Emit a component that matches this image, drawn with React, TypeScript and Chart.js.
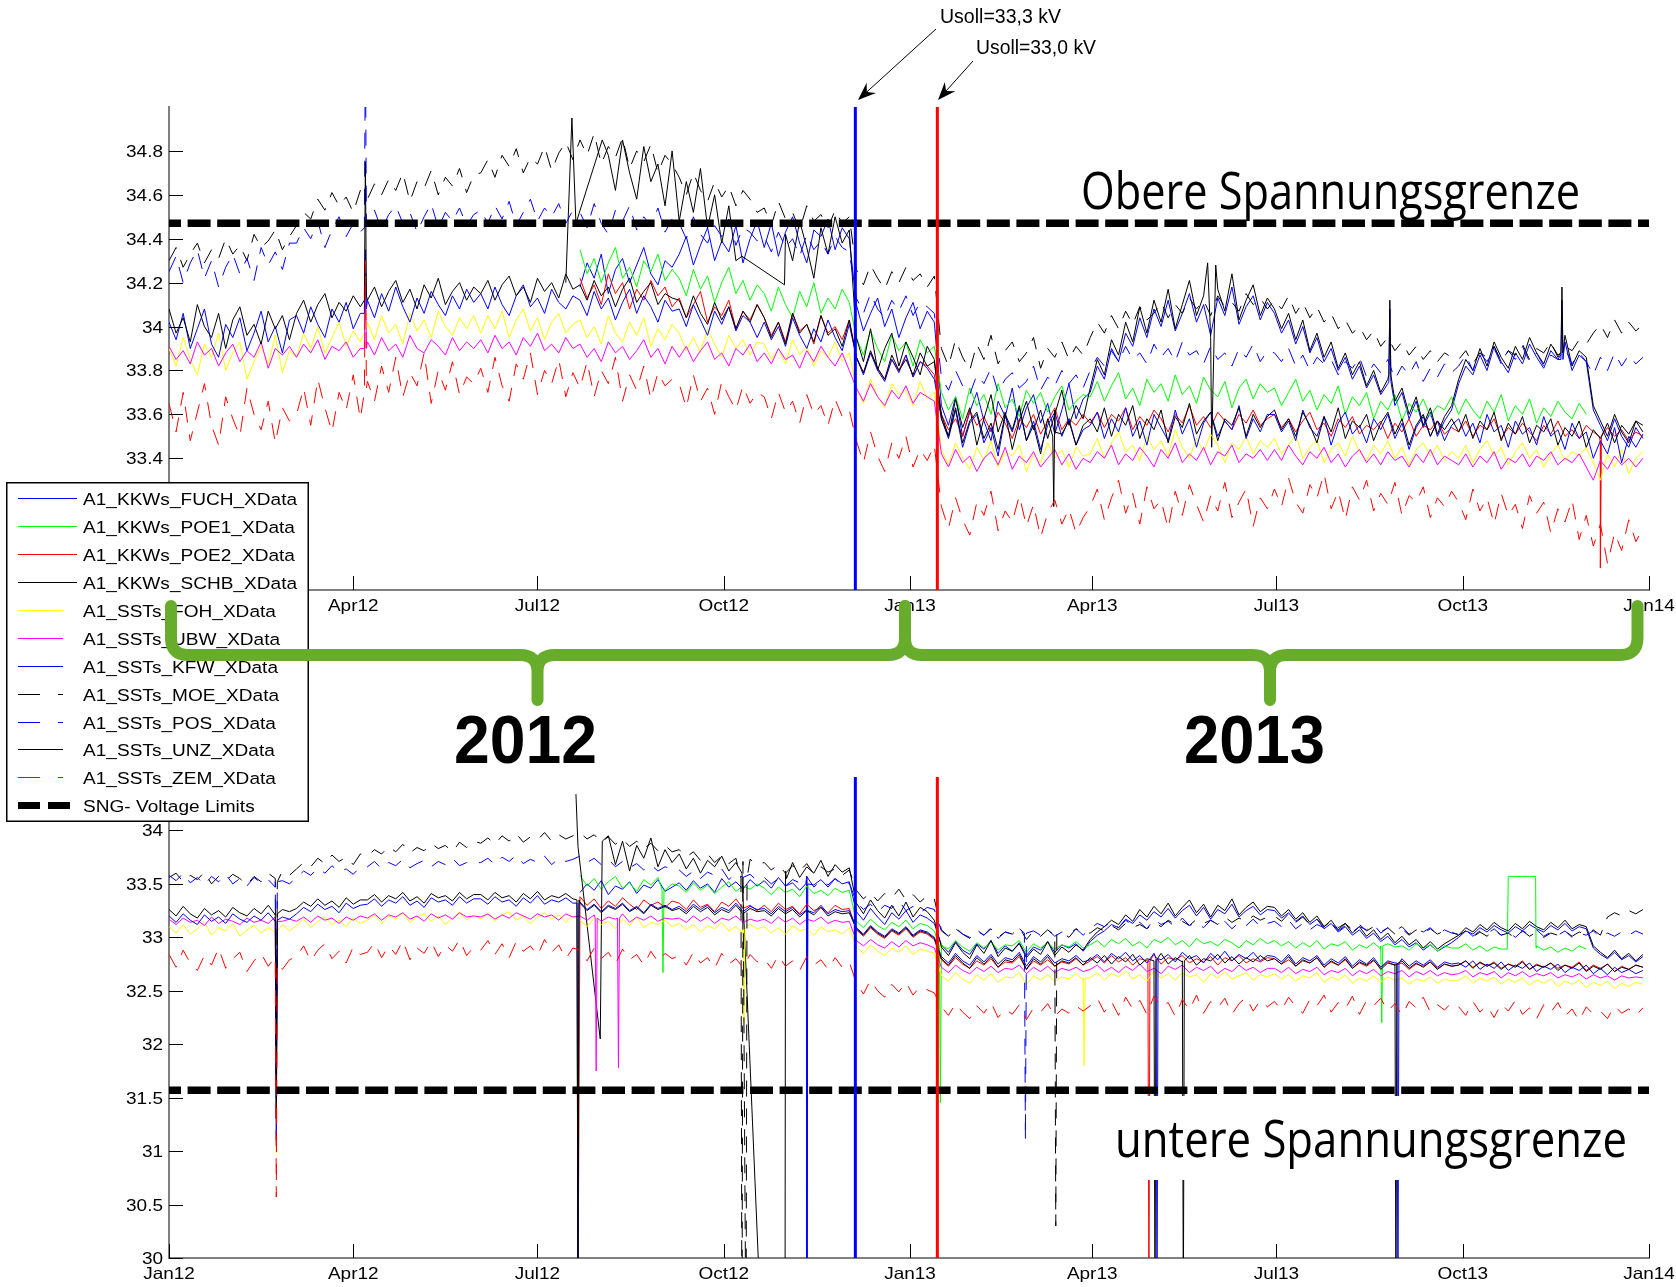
import React, { useEffect, useLayoutEffect, useRef } from 'react';
import { Chart, registerables } from 'chart.js';

Chart.register(...registerables);

// ---------------- axes / categories ----------------
const X_TICK_DAYS = [0, 91, 182, 274, 366, 456, 547, 639, 731];
const X_TICK_LABELS = ['Jan12', 'Apr12', 'Jul12', 'Oct12', 'Jan13', 'Apr13', 'Jul13', 'Oct13', 'Jan14'];
const X_RANGE = [0, 731];
const TOP_Y_RANGE = [32.8, 35];
const TOP_Y_TICKS = [33, 33.2, 33.4, 33.6, 33.8, 34, 34.2, 34.4, 34.6, 34.8];
const BOTTOM_Y_RANGE = [30, 34.5];
const BOTTOM_Y_TICKS = [30, 30.5, 31, 31.5, 32, 32.5, 33, 33.5, 34];
// half-week sample days (day 0 = 1 Jan 2012)
const SAMPLE_DAYS = Array.from({ length: 209 }, (_, i) => i * 3.5);

const SWITCH_DAYS = [339, 379.5]; // Usoll 33,3 kV / Usoll 33,0 kV
const SWITCH_COLORS = ['#0000ff', '#ff0000'];
const UPPER_LIMIT = 34.47;
const LOWER_LIMIT = 31.57;

const SERIES_NAMES = [
  'A1_KKWs_FUCH_XData', 'A1_KKWs_POE1_XData', 'A1_KKWs_POE2_XData', 'A1_KKWs_SCHB_XData',
  'A1_SSTs_FOH_XData', 'A1_SSTs_UBW_XData', 'A1_SSTs_KFW_XData', 'A1_SSTs_MOE_XData',
  'A1_SSTs_POS_XData', 'A1_SSTs_UNZ_XData', 'A1_SSTs_ZEM_XData',
];
const SERIES_COLORS = ['#0000ff', '#00ff00', '#ff0000', '#000000', '#ffff00', '#ff00ff', '#0000ff', '#000000', '#0000ff', '#000000', '#ff0000'];
const SERIES_DASHED = [false, false, false, false, false, false, false, true, true, false, true];
const SERIES_START = [58, 58, 58, 58, 0, 0, 0, 0, 0, 0, 0];
const LIMIT_LABEL = 'SNG- Voltage Limits';

// ---------------- TOP panel ----------------
const FUCH_TOP = [
  34.18,34.29,34.22,34.33,34.15,34.26,34.31,34.20,34.28,34.36,34.24,34.19,34.30,34.27,
  34.33,34.41,34.28,34.37,34.45,34.30,34.39,34.34,34.46,34.29,34.40,34.48,
  34.36,34.47,34.32,34.43,34.50,34.38,34.29,34.44,34.41,34.49,34.35,34.45,34.40,
  34.10,33.98,34.06,34.13,34.00,34.08,33.95,34.04,34.11,33.99,34.07,34.02,
  33.64,33.55,33.68,33.50,33.61,33.70,33.57,33.48,33.66,33.59,33.72,33.53,33.63,33.69,33.56,33.65,33.51,33.62,33.74,33.58,33.67,
  33.70,33.82,33.76,33.90,33.84,33.97,33.91,34.04,33.95,34.08,34.00,34.12,33.98,34.06,34.15,34.02,34.10,33.96,34.13,34.05,34.18,34.01,34.09,34.14,34.03,34.11,
  34.06,33.97,34.03,33.92,34.00,33.88,33.95,33.84,33.90,33.80,33.86,33.76,33.82,33.72,33.78,33.69,33.74,33.64,33.70,33.58,33.66,33.54,33.61,33.50,33.57,33.62,
  33.74,33.82,33.78,33.87,33.80,33.91,33.84,33.79,33.88,33.83,33.92,33.86,33.81,33.89,33.85,33.93,33.80,33.87,33.84,33.62,33.55,33.48,33.58,33.50,33.45,33.54,33.49,
];
const POE1_TOP = [
  34.35,34.24,34.31,34.20,34.29,34.36,34.22,34.27,34.18,34.30,34.25,34.33,34.21,34.26,
  34.22,34.14,34.26,34.17,34.23,34.11,34.20,34.27,34.15,34.21,34.12,34.19,
  34.15,34.07,34.18,34.10,34.04,34.16,34.09,34.20,34.06,34.13,34.08,34.17,34.11,
  33.95,33.87,33.98,33.90,33.84,33.96,33.89,33.93,33.82,33.94,33.88,33.91,
  33.70,33.62,33.68,33.58,33.72,33.64,33.69,33.60,33.74,33.63,33.67,33.59,33.71,33.65,33.70,33.61,33.68,33.73,33.62,33.66,33.69,
  33.68,33.75,33.66,33.73,33.79,33.67,33.72,33.64,33.76,33.70,33.74,33.66,33.78,33.69,33.73,33.65,33.77,33.71,33.68,33.75,33.63,33.72,33.76,33.67,33.74,33.70,
  33.72,33.64,33.70,33.76,33.66,33.71,33.62,33.69,33.65,33.73,33.60,33.68,33.64,33.70,33.58,33.66,33.62,33.69,33.57,33.65,33.61,33.67,33.59,33.64,33.62,33.68,
  33.60,33.67,33.62,33.58,33.66,33.61,33.69,33.57,33.64,33.60,33.67,33.56,33.63,33.59,33.66,33.61,33.58,33.65,33.60,null,null,null,null,null,null,null,null,
];
const POE2_TOP = [
  34.22,34.13,34.19,34.10,34.24,34.15,34.20,34.08,34.17,34.12,34.21,34.14,34.18,34.09,
  34.13,34.04,34.10,34.16,34.02,34.09,34.05,34.12,33.99,34.07,34.03,34.10,
  34.04,33.96,34.02,33.93,34.06,33.98,34.01,33.92,34.05,33.97,34.00,33.94,34.03,
  33.86,33.79,33.88,33.81,33.76,33.85,33.80,33.87,33.77,33.84,33.82,33.78,
  33.60,33.53,33.58,33.50,33.62,33.55,33.59,33.52,33.61,33.56,33.49,33.58,33.54,33.60,33.51,33.57,33.63,33.53,33.58,33.55,33.60,
  33.56,33.61,33.54,33.60,33.57,33.63,33.53,33.59,33.55,33.62,33.58,33.52,33.60,33.56,33.64,33.55,33.59,33.54,33.61,33.57,33.53,33.60,33.56,33.62,33.55,33.58,
  33.60,33.54,33.58,33.52,33.57,33.61,33.53,33.56,33.50,33.58,33.54,33.59,33.51,33.55,33.53,33.57,33.49,33.56,33.52,33.58,33.50,33.55,33.53,33.57,33.51,33.54,
  33.52,33.57,33.50,33.55,33.53,33.58,33.49,33.54,33.51,33.56,33.52,33.48,33.55,33.51,33.57,33.50,33.53,33.49,33.55,33.52,33.47,33.54,33.50,33.53,33.48,33.52,33.50,
];
const SCHB_TOP = [
  null,null,null,null,34.78,34.62,34.85,34.70,34.58,34.82,34.66,34.74,34.55,34.80,
  34.48,34.66,34.52,34.72,34.45,34.60,34.38,34.55,34.30,null,null,null,
  null,null,null,34.42,34.30,34.48,34.36,34.22,34.45,34.33,34.50,34.38,34.44,
  33.95,33.84,33.99,33.80,33.90,33.97,33.82,33.93,33.86,33.78,33.91,33.85,
  33.60,33.50,33.67,33.54,33.63,33.46,33.58,33.69,33.52,33.61,33.44,33.57,33.66,33.53,33.62,33.49,33.60,33.71,33.55,33.64,33.58,
  33.72,33.85,33.78,33.94,33.87,34.02,33.93,34.09,33.97,34.12,34.02,34.17,33.99,34.10,34.21,34.05,34.14,33.95,34.17,34.07,34.24,34.03,34.12,34.19,34.05,34.13,
  34.08,33.99,34.06,33.94,34.03,33.89,33.97,33.86,33.93,33.81,33.88,33.78,33.84,33.73,33.80,33.70,33.76,33.66,33.72,33.60,33.68,33.55,33.63,33.51,33.59,33.64,
  33.76,33.85,33.80,33.90,33.82,33.93,33.86,33.81,33.91,33.85,33.95,33.88,33.83,33.92,33.87,33.96,33.82,33.89,33.86,33.64,33.57,33.50,33.60,33.52,33.47,33.57,33.52,
];
const FOH_TOP = [
  33.90,33.82,33.95,33.85,33.78,33.92,33.86,33.97,33.80,33.88,33.93,33.76,33.84,33.91,33.83,33.96,33.79,33.89,
  33.86,33.97,33.90,34.00,33.88,33.95,34.02,33.91,33.98,33.93,
  34.02,33.94,34.05,33.97,34.01,33.92,34.06,33.98,34.03,33.95,34.07,34.00,33.96,34.04,33.99,34.05,
  33.97,34.05,33.99,34.07,33.95,34.03,34.08,33.98,34.04,33.94,34.02,34.06,33.97,34.01,
  34.03,33.95,34.00,33.92,34.05,33.97,33.93,34.02,33.96,34.04,33.91,33.99,33.94,34.01,
  33.97,33.89,33.95,33.88,33.99,33.92,33.86,33.96,33.90,33.94,33.87,33.93,
  33.92,33.85,33.90,33.83,33.94,33.87,33.91,33.82,33.89,33.86,33.93,33.84,33.88,
  33.72,33.65,33.76,33.68,33.63,33.74,33.69,33.71,33.64,33.75,33.67,33.70,
  33.44,33.37,33.47,33.40,33.35,33.45,33.39,33.48,33.36,33.43,33.41,33.46,33.34,33.42,33.38,33.47,33.40,33.44,33.36,33.45,33.41,
  33.42,33.49,33.40,33.47,33.52,33.43,33.46,33.39,33.50,33.44,33.48,33.41,33.53,33.45,33.40,33.49,33.43,33.51,33.46,33.38,33.47,33.44,33.50,33.42,33.48,33.45,
  33.49,33.42,33.46,33.51,33.40,33.45,33.48,33.38,33.44,33.47,33.41,33.50,33.43,33.39,33.46,33.42,33.48,33.40,33.45,33.37,33.44,33.47,33.41,33.46,33.39,33.43,
  33.40,33.46,33.38,33.44,33.48,33.41,33.45,33.37,33.43,33.47,33.40,33.44,33.36,33.42,33.46,33.39,33.43,33.41,33.45,33.38,33.30,33.42,33.36,33.44,33.33,33.40,33.43,
];
const UBW_TOP = [
  33.91,33.85,33.89,33.83,33.93,33.87,33.90,33.82,33.88,33.92,33.84,33.89,33.86,33.93,33.81,33.90,33.87,33.91,
  33.86,33.92,33.88,33.94,33.85,33.91,33.89,33.93,33.86,33.90,
  33.93,33.87,33.95,33.89,33.92,33.86,33.96,33.90,33.88,33.94,33.91,33.87,33.95,33.89,33.93,33.90,
  33.94,33.88,33.96,33.90,33.93,33.87,33.95,33.91,33.97,33.89,33.92,33.88,33.95,33.90,
  33.92,33.86,33.90,33.84,33.93,33.88,33.91,33.85,33.89,33.94,33.86,33.90,33.83,33.91,
  33.86,33.91,33.84,33.89,33.93,33.85,33.88,33.82,33.90,33.87,33.92,33.84,
  33.88,33.83,33.90,33.85,33.87,33.81,33.89,33.84,33.91,33.86,33.82,33.88,33.80,
  33.72,33.66,33.74,33.68,33.64,33.71,33.67,33.73,33.65,33.70,33.68,33.66,
  33.42,33.36,33.44,33.38,33.41,33.34,33.40,33.43,33.37,33.45,33.35,33.41,33.38,33.43,33.36,33.40,33.44,33.37,33.42,33.35,33.40,
  33.38,33.43,33.40,33.46,33.37,33.42,33.39,33.45,33.41,33.36,33.44,33.40,33.47,33.38,33.42,33.39,33.45,33.37,33.43,33.41,33.46,33.38,33.42,33.40,33.44,33.39,
  33.44,33.39,33.46,33.41,33.37,33.43,33.40,33.45,33.38,33.42,33.36,33.41,33.44,33.38,33.42,33.37,33.43,33.39,33.41,33.36,33.42,33.38,33.44,33.37,33.41,33.39,
  33.37,33.42,33.36,33.41,33.38,33.43,33.35,33.40,33.38,33.42,33.36,33.41,33.39,33.43,33.37,33.40,33.38,33.42,33.36,33.30,33.39,33.35,33.41,33.37,33.40,33.36,33.40,
];
const KFW_TOP = [
  34.02,33.94,34.06,33.90,33.99,34.08,33.92,33.86,34.01,33.95,34.04,33.89,33.97,34.07,33.93,34.00,33.88,34.03,
  34.05,33.97,34.09,34.01,33.95,34.08,34.02,34.11,33.99,34.06,
  34.12,34.04,34.15,34.07,34.18,34.09,34.02,34.13,34.06,34.16,34.10,34.05,34.14,34.08,34.17,34.11,
  34.15,34.08,34.18,34.10,34.05,34.14,34.19,34.09,34.13,34.06,34.17,34.11,34.08,34.14,
  34.12,34.05,34.16,34.08,34.13,34.03,34.11,34.17,34.06,34.14,34.09,34.02,34.12,34.07,
  34.08,34.00,34.10,34.03,33.96,34.07,34.01,34.09,33.98,34.05,34.02,33.95,
  34.02,33.94,34.00,33.91,34.04,33.96,33.90,33.99,33.93,34.03,33.95,33.89,34.01,
  33.86,33.78,33.88,33.80,33.75,33.85,33.79,33.87,33.77,33.84,33.81,33.76,
  33.58,33.49,33.62,33.45,33.56,33.60,33.47,33.54,33.41,33.59,33.52,33.63,33.48,33.57,33.44,33.55,33.61,33.50,33.58,33.46,33.53,
  33.55,33.61,33.49,33.58,33.52,33.63,33.50,33.57,33.46,33.60,33.54,33.48,33.62,33.51,33.58,33.45,33.56,33.61,33.50,33.57,33.53,33.64,33.49,33.58,33.52,33.60,
  33.60,33.52,33.57,33.48,33.62,33.54,33.50,33.59,33.46,33.56,33.61,33.51,33.55,33.47,33.58,33.53,33.60,33.49,33.56,33.44,33.54,33.59,33.50,33.57,33.48,33.55,
  33.58,33.50,33.56,33.47,33.60,33.52,33.55,33.45,33.57,33.51,33.54,33.46,33.59,33.50,33.53,33.44,33.56,33.49,33.52,33.40,33.48,33.42,33.54,33.38,33.50,33.45,33.51,
];
const MOE_TOP = [
  34.30,34.36,34.27,34.33,34.38,34.29,34.35,34.31,34.40,34.33,34.37,34.30,34.42,34.36,34.39,34.44,34.35,34.41,
  34.46,34.52,34.49,34.58,34.53,34.61,34.55,34.59,34.52,34.62,
  34.58,34.65,34.60,34.67,34.62,34.70,34.57,34.66,34.63,34.71,34.60,34.68,34.64,34.72,34.61,34.69,
  34.70,34.76,34.68,34.78,34.73,34.81,34.70,34.77,34.74,34.82,34.71,34.79,34.84,34.76,
  34.85,34.78,34.88,34.74,34.82,34.77,34.86,34.72,34.80,34.75,34.83,34.70,34.78,34.74,
  34.68,34.60,34.70,34.62,34.57,34.66,34.59,34.64,34.55,34.62,34.58,34.52,
  34.54,34.46,34.57,34.49,34.52,34.44,34.55,34.48,34.51,34.45,34.53,34.47,34.50,
  34.26,34.19,34.28,34.22,34.17,34.25,34.20,34.27,34.21,34.24,34.18,34.23,
  33.90,33.82,33.94,33.86,33.80,33.92,33.85,33.96,33.83,33.89,33.93,33.84,33.88,33.95,33.81,33.90,33.86,33.93,33.85,33.91,33.87,
  33.95,34.02,33.97,34.05,33.99,34.07,34.01,34.09,34.03,34.06,34.11,34.04,34.10,34.06,34.13,34.08,34.12,34.05,34.14,34.09,34.11,34.07,34.15,34.10,34.13,34.08,
  34.12,34.08,34.14,34.06,34.11,34.04,34.09,34.02,34.06,33.99,34.03,33.97,34.00,33.94,33.98,33.91,33.95,33.89,33.93,33.87,33.91,33.85,33.89,33.84,33.88,33.86,
  33.85,33.89,33.83,33.88,33.86,33.91,33.84,33.89,33.87,33.92,33.85,33.90,33.88,33.93,33.86,33.91,33.89,33.94,33.92,33.97,34.01,33.95,34.03,33.97,34.02,33.98,34.01,
];
const POS_TOP = [
  34.25,34.32,34.20,34.29,34.35,34.22,34.30,34.18,34.27,34.33,34.24,34.31,34.21,34.36,34.28,34.34,34.26,34.38,
  34.38,34.45,34.40,34.48,34.36,34.44,34.50,34.41,34.47,34.43,
  34.46,34.53,34.44,34.51,34.55,34.47,34.52,34.43,34.50,34.56,34.45,34.52,34.48,34.54,34.46,34.51,
  34.53,34.47,34.55,34.49,34.57,34.46,34.52,34.58,34.48,34.54,34.50,34.56,34.47,34.53,
  34.52,34.45,34.56,34.47,34.42,34.53,34.48,34.55,34.44,34.50,34.46,34.54,34.43,34.49,
  34.47,34.40,34.50,34.42,34.38,34.46,34.41,34.49,34.37,34.45,34.43,34.39,
  34.41,34.34,34.43,34.36,34.40,34.32,34.42,34.35,34.39,34.33,34.41,34.36,34.34,
  34.13,34.06,34.15,34.08,34.04,34.12,34.07,34.14,34.05,34.11,34.09,34.06,
  33.77,33.71,33.80,33.73,33.69,33.78,33.74,33.81,33.70,33.76,33.79,33.72,33.75,33.82,33.71,33.77,33.73,33.80,33.74,33.78,33.72,
  33.80,33.86,33.82,33.89,33.84,33.91,33.85,33.88,33.83,33.92,33.86,33.90,33.84,33.93,33.87,33.89,33.83,33.91,33.85,33.88,33.82,33.90,33.86,33.92,33.84,33.89,
  33.88,33.84,33.90,33.82,33.87,33.80,33.86,33.83,33.85,33.78,33.84,33.81,33.86,33.77,33.83,33.79,33.85,33.76,33.82,33.78,33.84,33.75,33.81,33.77,33.83,33.79,
  33.82,33.87,33.80,33.88,33.84,33.90,33.83,33.89,33.85,33.91,33.84,33.88,33.82,33.87,33.85,33.90,33.83,33.88,33.84,33.78,33.86,33.80,33.88,33.82,33.87,33.83,33.86,
];
const UNZ_TOP = [
  34.08,33.97,34.04,33.93,34.10,34.00,33.95,34.06,33.90,34.03,34.09,33.96,34.01,33.92,34.07,33.99,34.05,33.94,
  34.06,34.12,34.02,34.10,34.15,34.04,34.11,34.07,34.14,34.09,
  34.12,34.18,34.09,34.16,34.21,34.11,34.17,34.08,34.19,34.13,34.22,34.10,34.16,34.20,34.12,34.18,
  34.15,34.21,34.12,34.19,34.23,34.14,34.18,34.11,34.22,34.16,34.20,34.13,34.24,34.17,
  34.19,34.12,34.21,34.14,34.18,34.09,34.17,34.22,34.11,34.16,34.20,34.10,34.15,34.13,
  34.12,34.04,34.14,34.06,34.01,34.11,34.03,34.09,33.99,34.07,34.02,34.10,
  34.04,33.95,34.02,33.92,34.06,33.97,34.01,33.93,34.05,33.96,33.99,33.91,34.03,
  33.86,33.79,33.89,33.81,33.76,33.87,33.80,33.85,33.78,33.88,33.82,33.84,
  33.58,33.50,33.63,33.47,33.57,33.61,33.49,33.56,33.44,33.60,33.53,33.64,33.48,33.55,33.42,33.58,33.62,33.51,33.57,33.46,33.55,
  33.58,33.52,33.63,33.50,33.60,33.55,33.64,33.49,33.58,33.53,33.62,33.47,33.59,33.54,33.65,33.51,33.57,33.61,33.48,33.58,33.55,33.63,33.50,33.60,33.54,33.59,
  33.62,33.53,33.58,33.50,33.61,33.55,33.47,33.59,33.52,33.63,33.49,33.57,33.54,33.60,33.48,33.56,33.61,33.51,33.58,33.46,33.55,33.60,33.50,33.57,33.53,33.58,
  33.52,33.60,33.49,33.57,33.53,33.61,33.48,33.56,33.51,33.59,33.47,33.55,33.52,33.58,33.46,33.54,33.50,33.57,33.45,33.53,33.49,33.56,33.47,33.55,33.51,33.57,33.55,
];
const ZEM_TOP = [
  33.65,33.52,33.70,33.48,33.61,33.74,33.55,33.46,33.68,33.58,33.50,33.72,33.60,33.53,33.66,33.47,33.63,33.57,
  33.60,33.72,33.55,33.76,33.63,33.52,33.70,33.62,33.78,33.58,
  33.75,33.66,33.82,33.70,33.86,33.68,33.79,33.73,33.88,33.65,33.80,33.71,33.84,33.69,33.77,33.74,
  33.81,33.70,33.86,33.73,33.66,33.83,33.76,33.88,33.69,33.80,33.74,33.85,33.68,33.79,
  33.72,33.84,33.68,33.80,33.74,33.86,33.66,33.78,33.71,33.82,33.67,33.79,33.73,33.76,
  33.74,33.63,33.78,33.66,33.72,33.60,33.75,33.68,33.62,33.73,33.65,33.70,
  33.68,33.58,33.70,33.61,33.66,33.56,33.69,33.60,33.64,33.55,33.67,33.59,33.62,
  33.48,33.38,33.52,33.41,33.34,33.47,33.40,33.50,33.36,33.44,33.39,33.46,
  33.18,33.08,33.22,33.12,33.05,33.20,33.14,33.25,33.07,33.16,33.11,33.23,33.09,33.19,33.04,33.15,33.21,33.10,33.17,33.06,33.13,
  33.18,33.26,33.12,33.22,33.30,33.15,33.24,33.10,33.27,33.17,33.21,33.08,33.25,33.14,33.28,33.19,33.11,33.23,33.16,33.29,33.13,33.20,33.26,33.09,33.22,33.17,
  33.26,33.18,33.31,33.20,33.15,33.28,33.22,33.33,33.17,33.25,33.12,33.27,33.21,33.30,33.16,33.24,33.19,33.29,33.14,33.23,33.20,33.27,33.13,33.22,33.18,33.25,
  33.20,33.12,33.26,33.16,33.22,33.10,33.24,33.14,33.19,33.08,33.23,33.15,33.20,33.06,33.17,33.11,33.21,33.03,33.14,33.00,33.10,32.92,33.06,32.98,33.12,33.02,33.08,
];

// isolated events [day, value]
const FUCH_TOP_SPIKES = [[602.5, 33.75], [603, 34.08], [603.5, 33.75], [687.5, 33.85], [688, 34.12], [688.5, 33.85]];
const POE1_TOP_SPIKES: number[][] = [];
const POE2_TOP_SPIKES = [[706.5, 33.50], [707, 32.90], [707.5, 33.50]];
const SCHB_TOP_SPIKES = [[196, 34.20], [199, 34.95], [201, 34.47], [214, 34.85], [283, 34.32], [304, 34.19], [513, 34.29], [515, 33.45], [517, 34.28], [602.5, 33.78], [603, 34.12], [603.5, 33.78], [687.5, 33.88], [688, 34.18], [688.5, 33.88]];
const FOH_TOP_SPIKES = [[96.5, 33.97], [97, 34.18], [97.5, 33.98]];
const UBW_TOP_SPIKES = [[96.5, 33.90], [97, 34.25], [97.5, 33.90]];
const KFW_TOP_SPIKES = [[96.5, 34.06], [97, 34.35], [97.5, 34.08]];
const MOE_TOP_SPIKES: number[][] = [];
const POS_TOP_SPIKES = [[96.5, 34.45], [97, 35.30], [97.5, 34.48]];
const UNZ_TOP_SPIKES = [[96.5, 34.12], [97, 34.75], [97.5, 34.14], [436.5, 33.50], [437, 33.18], [437.5, 33.52]];
const ZEM_TOP_SPIKES = [[96.5, 33.70], [97, 34.30], [97.5, 33.72]];

// ---------------- BOTTOM panel ----------------
const FUCH_BOTTOM = [
  33.42,33.50,33.44,33.53,33.40,33.48,33.45,33.52,33.41,33.49,33.46,33.54,33.43,33.47,
  33.51,33.44,33.53,33.46,33.50,33.42,33.55,33.47,33.52,33.45,33.54,33.48,
  33.53,33.46,33.56,33.48,33.51,33.44,33.57,33.49,33.54,33.47,33.55,33.50,33.52,
  33.24,33.16,33.27,33.19,33.12,33.23,33.17,33.25,33.14,33.21,33.18,33.13,
  32.93,32.86,32.96,32.88,32.84,32.94,32.89,32.97,32.85,32.92,32.87,32.95,32.83,32.91,32.88,32.96,32.86,32.93,32.90,32.94,32.87,
  32.96,33.02,33.06,33.12,33.09,33.17,33.13,33.21,33.16,33.24,33.19,33.27,33.18,33.25,33.30,33.20,33.28,33.17,33.26,33.22,33.31,33.19,33.25,33.29,33.21,33.26,
  33.25,33.18,33.23,33.15,33.20,33.12,33.17,33.08,33.13,33.05,33.10,33.02,33.07,32.99,33.04,32.96,33.01,32.93,32.98,32.91,32.95,32.88,32.93,32.87,32.91,32.95,
  33.00,33.06,33.03,33.09,33.05,33.11,33.07,33.04,33.10,33.06,33.12,33.08,33.05,33.11,33.07,33.13,33.06,33.10,33.08,32.90,32.84,32.80,32.86,32.79,32.83,32.77,32.82,
];
const POE1_BOTTOM = [
  33.58,33.48,33.55,33.45,33.52,33.57,33.46,33.51,33.43,33.54,33.49,33.56,33.44,33.50,
  33.48,33.42,33.51,33.44,33.49,33.41,33.47,33.52,33.43,33.48,33.45,33.50,
  33.46,33.40,33.47,33.42,33.45,33.38,33.48,33.41,33.44,33.39,33.46,33.42,33.44,
  33.15,33.09,33.17,33.11,33.07,33.14,33.10,33.16,33.08,33.13,33.11,33.06,
  32.94,32.89,32.97,32.91,32.87,32.95,32.90,32.96,32.88,32.93,32.92,32.97,32.86,32.94,32.90,32.95,32.89,32.93,32.91,32.96,32.90,
  32.93,32.97,32.91,32.98,32.94,32.99,32.92,32.96,32.90,32.98,32.95,33.00,32.93,32.97,32.91,32.99,32.94,32.96,32.92,32.98,32.95,32.90,32.97,32.93,32.99,32.94,
  32.97,32.92,32.96,32.90,32.95,32.91,32.97,32.89,32.94,32.92,32.96,32.88,32.93,32.90,32.95,32.89,32.94,32.91,32.92,32.88,32.94,32.90,32.93,32.87,32.92,32.90,
  32.90,32.94,32.88,32.92,32.87,32.91,32.89,33.57,33.57,33.57,33.57,32.92,32.88,32.91,32.86,32.90,32.87,32.92,32.89,null,null,null,null,null,null,null,null,
];
const POE2_BOTTOM = [
  33.38,33.30,33.36,33.27,33.34,33.29,33.37,33.31,33.26,33.35,33.30,33.33,33.28,33.34,
  33.32,33.26,33.35,33.28,33.31,33.24,33.33,33.29,33.36,33.27,33.30,33.25,
  33.30,33.24,33.32,33.26,33.29,33.22,33.31,33.25,33.28,33.23,33.30,33.26,33.27,
  33.07,33.01,33.09,33.03,32.99,33.06,33.02,33.08,33.00,33.05,33.03,32.98,
  32.79,32.73,32.81,32.75,32.71,32.78,32.74,32.80,32.72,32.77,32.76,32.82,32.70,32.78,32.74,32.79,32.73,32.77,32.75,32.80,32.74,
  32.78,32.82,32.76,32.83,32.77,32.81,32.74,32.80,32.78,32.84,32.75,32.81,32.79,32.83,32.76,32.80,32.77,32.82,32.74,32.81,32.78,32.83,32.76,32.80,32.77,32.81,
  32.80,32.75,32.79,32.73,32.78,32.76,32.81,32.72,32.77,32.74,32.79,32.71,32.76,32.73,32.78,32.72,32.77,32.74,32.76,32.70,32.75,32.73,32.77,32.71,32.75,32.73,
  32.74,32.78,32.72,32.76,32.73,32.77,32.71,32.75,32.73,32.78,32.70,32.75,32.72,32.76,32.71,32.74,32.72,32.77,32.69,32.74,32.71,32.75,32.68,32.73,32.70,32.74,32.72,
];
const SCHB_BOTTOM = [
  null,null,null,null,33.95,33.68,33.90,33.62,33.86,33.74,33.93,33.66,33.82,33.70,
  33.78,33.64,33.74,33.60,33.72,33.66,33.76,33.62,33.70,null,null,null,
  null,null,null,33.62,33.70,33.56,33.66,33.60,33.72,33.57,33.68,33.61,33.65,
  33.32,33.22,33.35,33.25,33.18,33.30,33.20,33.33,33.19,33.28,33.24,33.16,
  32.91,32.83,32.95,32.86,32.80,32.93,32.85,32.97,32.82,32.90,32.87,32.94,32.81,32.89,32.84,32.96,32.83,32.91,32.86,32.93,32.88,
  32.98,33.05,33.10,33.16,33.12,33.21,33.15,33.26,33.19,33.29,33.22,33.32,33.20,33.28,33.35,33.23,33.31,33.19,33.30,33.25,33.36,33.21,33.28,33.33,33.24,33.29,
  33.28,33.20,33.26,33.17,33.23,33.14,33.20,33.10,33.16,33.07,33.13,33.04,33.10,33.01,33.07,32.98,33.04,32.95,33.01,32.93,32.98,32.90,32.96,32.89,32.94,32.98,
  33.02,33.09,33.05,33.12,33.07,33.14,33.09,33.06,33.13,33.08,33.15,33.10,33.07,33.14,33.09,33.16,33.08,33.12,33.10,32.92,32.86,32.81,32.88,32.80,32.85,32.78,32.84,
];
const FOH_BOTTOM = [
  33.10,33.04,33.12,33.03,33.08,33.14,33.02,33.09,33.06,33.13,33.01,33.07,33.11,33.04,33.09,33.05,33.12,33.06,
  33.11,33.17,33.09,33.15,33.19,33.12,33.16,33.10,33.18,33.13,
  33.16,33.21,33.13,33.20,33.17,33.23,33.14,33.19,33.22,33.15,33.20,33.12,33.18,33.24,33.16,33.21,
  33.17,33.22,33.15,33.21,33.24,33.16,33.20,33.13,33.19,33.23,33.17,33.21,33.14,33.20,
  33.16,33.10,33.18,33.12,33.15,33.08,33.17,33.11,33.19,33.09,33.14,33.12,33.16,33.10,
  33.13,33.07,33.12,33.05,33.11,33.08,33.14,33.06,33.10,33.04,33.12,33.08,
  33.10,33.04,33.09,33.03,33.11,33.06,33.08,33.02,33.10,33.05,33.07,33.03,33.09,
  32.91,32.85,32.93,32.87,32.83,32.90,32.86,32.92,32.84,32.89,32.87,32.85,
  32.64,32.59,32.67,32.61,32.57,32.65,32.60,32.66,32.58,32.63,32.62,32.67,32.56,32.64,32.60,32.65,32.59,32.63,32.61,32.66,32.60,
  32.62,32.67,32.60,32.66,32.63,32.69,32.61,32.65,32.59,32.68,32.62,32.66,32.60,32.67,32.63,32.65,32.58,32.66,32.62,32.68,32.61,32.64,32.67,32.60,32.65,32.63,
  32.66,32.61,32.65,32.59,32.64,32.62,32.67,32.58,32.63,32.60,32.65,32.57,32.62,32.59,32.64,32.58,32.63,32.60,32.62,32.56,32.61,32.59,32.63,32.57,32.61,32.59,
  32.60,32.64,32.57,32.62,32.59,32.63,32.56,32.61,32.58,32.62,32.55,32.60,32.57,32.61,32.54,32.59,32.56,32.60,32.53,32.58,32.55,32.59,32.52,32.57,32.54,32.58,32.56,
];
const UBW_BOTTOM = [
  33.17,33.12,33.18,33.14,33.16,33.11,33.19,33.13,33.17,33.15,33.12,33.18,33.14,33.16,33.13,33.19,33.15,33.17,
  33.15,33.19,33.14,33.20,33.16,33.18,33.13,33.19,33.16,33.20,
  33.18,33.22,33.16,33.21,33.19,33.23,33.17,33.20,33.15,33.22,33.18,33.21,33.17,33.23,33.19,33.20,
  33.19,33.22,33.17,33.21,33.18,33.23,33.20,33.17,33.22,33.19,33.21,33.16,33.22,33.19,
  33.20,33.16,33.21,33.15,33.19,33.17,33.22,33.14,33.19,33.16,33.20,33.15,33.18,33.17,
  33.18,33.14,33.20,33.15,33.19,33.13,33.18,33.16,33.20,33.14,33.17,33.15,
  33.17,33.13,33.19,33.14,33.18,33.12,33.17,33.15,33.19,33.13,33.16,33.14,33.15,
  32.97,32.92,32.98,32.93,32.90,32.96,32.91,32.97,32.92,32.95,32.93,32.90,
  32.72,32.67,32.74,32.69,32.66,32.72,32.68,32.73,32.67,32.71,32.70,32.74,32.66,32.72,32.68,32.73,32.67,32.71,32.69,32.72,32.68,
  32.70,32.74,32.68,32.72,32.67,32.73,32.69,32.75,32.68,32.71,32.66,32.73,32.70,32.74,32.67,32.72,32.69,32.73,32.66,32.71,32.68,32.74,32.69,32.72,32.67,32.71,
  32.71,32.67,32.72,32.66,32.70,32.68,32.72,32.65,32.69,32.67,32.71,32.64,32.69,32.66,32.70,32.64,32.68,32.66,32.69,32.63,32.68,32.65,32.69,32.64,32.67,32.65,
  32.66,32.69,32.63,32.67,32.65,32.68,32.62,32.67,32.64,32.68,32.63,32.66,32.64,32.67,32.62,32.65,32.63,32.66,32.61,32.65,32.62,32.64,32.60,32.64,32.62,32.63,32.62,
];
const KFW_BOTTOM = [
  33.20,33.14,33.22,33.16,33.12,33.21,33.15,33.19,33.13,33.22,33.17,33.14,33.20,33.16,33.23,33.15,33.19,33.17,
  33.22,33.28,33.24,33.31,33.26,33.29,33.23,33.32,33.27,33.30,
  33.31,33.36,33.29,33.35,33.32,33.38,33.30,33.34,33.28,33.37,33.33,33.35,33.30,33.38,33.32,33.36,
  33.36,33.31,33.38,33.33,33.35,33.29,33.37,33.32,33.39,33.31,33.35,33.33,33.37,33.32,
  33.33,33.26,33.31,33.24,33.30,33.27,33.32,33.25,33.29,33.23,33.31,33.27,33.30,33.26,
  33.29,33.24,33.31,33.26,33.30,33.23,33.28,33.25,33.32,33.24,33.29,33.26,
  33.27,33.22,33.29,33.24,33.28,33.21,33.27,33.23,33.30,33.22,33.26,33.24,33.25,
  33.09,33.03,33.11,33.05,33.01,33.08,33.04,33.10,33.02,33.07,33.05,33.00,
  32.82,32.76,32.85,32.78,32.74,32.83,32.77,32.84,32.75,32.81,32.79,32.86,32.73,32.82,32.77,32.84,32.76,32.80,32.78,32.83,32.77,
  32.79,32.84,32.77,32.85,32.80,32.86,32.78,32.83,32.76,32.85,32.79,32.84,32.77,32.86,32.80,32.83,32.76,32.85,32.79,32.87,32.78,32.84,32.80,32.86,32.78,32.83,
  32.82,32.77,32.84,32.75,32.81,32.78,32.83,32.74,32.80,32.76,32.82,32.73,32.79,32.75,32.81,32.72,32.78,32.76,32.80,32.73,32.78,32.74,32.79,32.72,32.77,32.75,
  32.76,32.72,32.78,32.70,32.75,32.71,32.77,32.69,32.74,32.71,32.76,32.68,32.73,32.70,32.75,32.67,32.72,32.69,32.74,32.66,32.71,32.65,32.72,32.67,32.70,32.66,32.69,
];
const MOE_BOTTOM = [
  33.56,33.60,33.52,33.58,33.54,33.61,33.50,33.57,33.53,33.59,33.55,33.49,33.57,33.52,33.60,33.55,33.62,33.58,
  33.64,33.70,33.66,33.74,33.69,33.77,33.71,33.75,33.68,33.78,
  33.76,33.82,33.78,33.85,33.80,33.87,33.79,33.84,33.81,33.88,33.83,33.86,33.80,33.89,33.84,33.90,
  33.88,33.93,33.87,33.95,33.90,33.97,33.89,33.94,33.91,33.98,33.90,33.96,33.92,33.95,
  33.98,33.92,33.96,33.89,33.94,33.87,33.92,33.85,33.90,33.83,33.88,33.81,33.86,33.80,
  33.82,33.75,33.80,33.72,33.78,33.70,33.76,33.69,33.74,33.71,33.73,33.68,
  33.70,33.63,33.68,33.60,33.67,33.62,33.69,33.59,33.66,33.61,33.64,33.58,33.63,
  33.44,33.36,33.42,33.34,33.41,33.37,33.45,33.35,33.40,33.33,33.39,33.36,
  33.07,33.01,33.09,33.03,32.99,33.06,33.02,33.08,33.00,33.05,33.03,33.09,32.98,33.06,33.01,33.07,33.02,33.05,33.00,33.08,33.04,
  33.04,33.09,33.06,33.11,33.07,33.13,33.09,33.12,33.08,33.14,33.10,33.16,33.12,33.15,33.11,33.17,33.13,33.16,33.12,33.19,33.14,33.18,33.15,33.20,33.16,33.19,
  33.20,33.15,33.22,33.14,33.19,33.12,33.17,33.10,33.15,33.09,33.13,33.07,33.12,33.06,33.10,33.05,33.09,33.03,33.08,33.02,33.07,33.04,33.08,33.03,33.06,33.05,
  33.02,33.06,33.00,33.05,33.01,33.07,33.02,33.04,32.99,33.06,33.01,33.05,33.00,33.04,33.02,33.06,33.01,33.05,33.03,33.07,33.02,33.19,33.23,33.20,33.25,33.22,33.26,
];
const POS_BOTTOM = [
  33.58,33.53,33.60,33.51,33.56,33.49,33.57,33.52,33.59,33.50,33.55,33.48,33.56,33.51,33.54,33.47,33.53,33.50,
  33.56,33.62,33.58,33.65,33.60,33.67,33.61,33.64,33.59,33.66,
  33.66,33.71,33.64,33.70,33.67,33.73,33.65,33.69,33.72,33.66,33.71,33.68,33.74,33.67,33.70,33.69,
  33.70,33.74,33.68,33.75,33.71,33.77,33.69,33.73,33.70,33.76,33.68,33.74,33.71,33.73,
  33.76,33.70,33.74,33.68,33.73,33.66,33.71,33.65,33.69,33.63,33.68,33.62,33.66,33.64,
  33.63,33.57,33.62,33.55,33.61,33.58,33.64,33.54,33.60,33.56,33.59,33.53,
  33.56,33.50,33.55,33.48,33.54,33.51,33.57,33.47,33.53,33.49,33.55,33.48,33.51,
  33.33,33.26,33.31,33.24,33.30,33.27,33.34,33.25,33.29,33.23,33.28,33.26,
  33.06,33.01,33.08,33.03,33.00,33.07,33.02,33.09,32.99,33.05,33.03,33.08,33.00,33.06,33.02,33.07,33.01,33.05,33.03,33.08,33.02,
  33.08,33.13,33.10,33.15,33.09,33.16,33.11,33.14,33.08,33.17,33.12,33.15,33.10,33.18,33.11,33.14,33.09,33.16,33.12,33.15,33.08,33.14,33.11,33.17,33.10,33.13,
  33.15,33.10,33.16,33.08,33.13,33.07,33.12,33.09,33.14,33.06,33.11,33.05,33.10,33.07,33.12,33.04,33.09,33.06,33.10,33.03,33.08,33.05,33.09,33.02,33.07,33.04,
  33.03,33.07,33.01,33.06,33.03,33.08,33.02,33.05,33.00,33.06,33.03,33.07,33.01,33.05,33.02,33.06,33.00,33.04,33.02,33.06,33.00,33.04,33.01,33.05,33.02,33.06,33.03,
];
const UNZ_BOTTOM = [
  33.26,33.20,33.29,33.22,33.18,33.27,33.21,33.25,33.19,33.28,33.23,33.20,33.27,33.22,33.30,33.21,33.26,33.24,
  33.27,33.33,33.29,33.36,33.30,33.34,33.28,33.37,33.31,33.35,
  33.35,33.40,33.33,33.39,33.36,33.42,33.34,33.38,33.32,33.41,33.37,33.39,33.34,33.42,33.36,33.40,
  33.40,33.35,33.42,33.37,33.39,33.33,33.41,33.36,33.43,33.35,33.39,33.37,33.41,33.36,
  33.32,33.25,33.30,33.23,33.29,33.26,33.31,33.24,33.28,33.22,33.30,33.26,33.29,33.25,
  33.27,33.22,33.29,33.24,33.28,33.21,33.26,33.23,33.30,33.22,33.27,33.24,
  33.25,33.20,33.27,33.22,33.26,33.19,33.25,33.21,33.28,33.20,33.24,33.22,33.23,
  33.08,33.02,33.10,33.04,33.00,33.07,33.03,33.09,33.01,33.06,33.04,32.99,
  32.80,32.74,32.83,32.76,32.71,32.81,32.75,32.82,32.72,32.79,32.77,32.84,32.70,32.80,32.75,32.82,32.73,32.78,32.76,32.81,32.74,
  32.81,32.76,32.83,32.75,32.82,32.77,32.84,32.74,32.80,32.78,32.85,32.75,32.81,32.77,32.83,32.74,32.80,32.78,32.84,32.76,32.82,32.75,32.81,32.77,32.83,32.78,
  32.80,32.75,32.82,32.73,32.79,32.76,32.81,32.72,32.78,32.74,32.80,32.71,32.77,32.74,32.79,32.70,32.76,32.74,32.78,32.71,32.76,32.72,32.77,32.70,32.75,32.73,
  32.74,32.78,32.71,32.77,32.73,32.76,32.70,32.75,32.72,32.77,32.70,32.74,32.72,32.76,32.69,32.74,32.71,32.76,32.68,32.73,32.70,32.75,32.68,32.72,32.70,32.74,32.72,
];
const ZEM_BOTTOM = [
  32.84,32.72,32.88,32.76,32.69,32.83,32.74,32.90,32.71,32.80,32.86,32.68,32.78,32.85,32.73,32.82,32.70,32.79,
  32.82,32.92,32.78,32.88,32.94,32.80,32.87,32.76,32.91,32.84,
  32.86,32.95,32.81,32.92,32.84,32.97,32.79,32.90,32.85,32.96,32.82,32.93,32.87,32.98,32.83,32.91,
  32.88,32.97,32.84,32.94,32.81,32.96,32.87,32.92,32.83,32.98,32.86,32.93,32.80,32.90,
  32.88,32.78,32.90,32.80,32.86,32.75,32.89,32.79,32.84,32.74,32.87,32.77,32.85,32.80,
  32.83,32.74,32.86,32.76,32.81,32.71,32.85,32.75,32.80,32.72,32.84,32.77,
  32.80,32.71,32.83,32.73,32.78,32.69,32.82,32.74,32.79,32.70,32.81,32.72,32.77,
  32.57,32.47,32.60,32.50,32.44,32.56,32.49,32.58,32.46,32.54,32.51,32.48,
  32.35,32.27,32.38,32.30,32.24,32.36,32.29,32.39,32.25,32.33,32.28,32.37,32.23,32.34,32.30,32.38,32.26,32.33,32.29,32.36,32.31,
  32.36,32.43,32.30,32.40,32.27,32.44,32.33,32.41,32.28,32.45,32.35,32.39,32.26,32.42,32.32,32.46,32.29,32.40,32.34,32.43,32.28,32.38,32.44,32.31,32.41,32.35,
  32.40,32.32,32.44,32.35,32.29,32.42,32.36,32.46,32.30,32.39,32.33,32.45,32.28,32.41,32.36,32.43,32.31,32.38,32.27,32.40,32.34,32.44,32.30,32.37,32.32,32.39,
  32.35,32.27,32.40,32.30,32.36,32.25,32.38,32.31,32.41,32.28,32.34,32.24,32.37,32.30,32.39,32.26,32.33,32.22,32.35,32.28,32.31,32.24,32.36,32.29,32.33,32.27,32.34,
];

const FUCH_BOTTOM_SPIKES = [[314.5, 33.50], [315, 29.50], [315.5, 33.50]];
const POE1_BOTTOM_SPIKES = [[243.5, 33.45], [244, 32.67], [244.5, 33.45], [380.5, 32.92], [381, 31.45], [381.5, 32.92], [598.5, 32.92], [599, 32.20], [599.5, 32.92], [661, 32.89], [675, 33.57], [675.2, 32.90]];
const POE2_BOTTOM_SPIKES = [[202, 29.50], [483.5, 32.78], [484, 29.50], [484.5, 32.78]];
const SCHB_BOTTOM_SPIKES = [[201, 34.34], [202, 33.85], [213, 32.05], [214, 33.90], [283, 33.60], [304, 24.20], [305, 33.55]];
const FOH_BOTTOM_SPIKES = [[52.5, 33.06], [53, 30.98], [53.5, 33.06], [201.5, 33.18], [202, 29.50], [202.5, 33.18], [283.5, 33.08], [284, 32.20], [284.5, 33.08], [451.5, 32.62], [452, 31.80], [452.5, 32.62]];
const UBW_BOTTOM_SPIKES = [[52.5, 33.15], [53, 31.60], [53.5, 33.15], [210.5, 33.18], [211, 31.75], [211.5, 33.18], [221.5, 33.18], [222, 31.78], [222.5, 33.18]];
const KFW_BOTTOM_SPIKES = [[52.5, 33.16], [53, 31.10], [53.5, 33.16], [201.5, 33.32], [202, 29.50], [202.5, 33.32], [314.5, 33.25], [315, 29.50], [315.5, 33.25], [487.5, 32.80], [488, 29.50], [488.5, 32.80], [606.5, 32.76], [607, 29.50], [607.5, 32.76]];
const MOE_BOTTOM_SPIKES = [[52.5, 33.52], [53, 31.70], [53.5, 33.52], [282.5, 33.55], [283, 29.00], [285, 29.00], [285.5, 33.55], [437.5, 33.03], [438, 30.30], [438.5, 33.03]];
const POS_BOTTOM_SPIKES = [[52.5, 33.52], [53, 31.50], [53.5, 33.52], [422.5, 33.04], [423, 31.10], [423.5, 33.04]];
const UNZ_BOTTOM_SPIKES = [[52.5, 33.22], [53, 31.30], [53.5, 33.22], [201.5, 33.35], [202, 29.50], [202.5, 33.35], [486.5, 32.78], [487, 29.50], [487.5, 32.78], [500.5, 32.78], [501, 29.50], [501.5, 32.78], [605.5, 32.75], [606, 29.50], [606.5, 32.75]];
const ZEM_BOTTOM_SPIKES = [[52.5, 32.76], [53, 30.57], [53.5, 32.76]];

const TOP_VALUES = [FUCH_TOP, POE1_TOP, POE2_TOP, SCHB_TOP, FOH_TOP, UBW_TOP, KFW_TOP, MOE_TOP, POS_TOP, UNZ_TOP, ZEM_TOP];
const TOP_SPIKES = [FUCH_TOP_SPIKES, POE1_TOP_SPIKES, POE2_TOP_SPIKES, SCHB_TOP_SPIKES, FOH_TOP_SPIKES, UBW_TOP_SPIKES, KFW_TOP_SPIKES, MOE_TOP_SPIKES, POS_TOP_SPIKES, UNZ_TOP_SPIKES, ZEM_TOP_SPIKES];
const BOTTOM_VALUES = [FUCH_BOTTOM, POE1_BOTTOM, POE2_BOTTOM, SCHB_BOTTOM, FOH_BOTTOM, UBW_BOTTOM, KFW_BOTTOM, MOE_BOTTOM, POS_BOTTOM, UNZ_BOTTOM, ZEM_BOTTOM];
const BOTTOM_SPIKES = [FUCH_BOTTOM_SPIKES, POE1_BOTTOM_SPIKES, POE2_BOTTOM_SPIKES, SCHB_BOTTOM_SPIKES, FOH_BOTTOM_SPIKES, UBW_BOTTOM_SPIKES, KFW_BOTTOM_SPIKES, MOE_BOTTOM_SPIKES, POS_BOTTOM_SPIKES, UNZ_BOTTOM_SPIKES, ZEM_BOTTOM_SPIKES];

// ---------------- helpers ----------------
const PAGE_W = 1676;
const AXIS_LEFT = 169;
const AXIS_RIGHT_PAD = 27;
const LABEL_FONT = '16.5px "Liberation Sans", Arial, Helvetica, sans-serif';
const LABEL_STRETCH = 1.15;

function toPoints(values: (number | null)[], start: number, spikes: number[][]) {
  const pts: { x: number; y: number }[] = [];
  values.forEach((v, i) => {
    const d = SAMPLE_DAYS[i + start];
    if (v !== null && d !== undefined) pts.push({ x: d, y: v });
  });
  spikes.forEach(([x, y]) => pts.push({ x, y }));
  pts.sort((a, b) => a.x - b.x);
  return pts;
}

function fmt(v: number) {
  return String(Math.round(v * 10) / 10);
}

const axisDecor = {
  id: 'axisDecor',
  afterDraw(chart: any) {
    const { ctx, chartArea: a } = chart;
    const xs = chart.scales.x;
    const ys = chart.scales.y;
    ctx.save();
    ctx.strokeStyle = '#000';
    ctx.lineWidth = 1;
    ctx.beginPath();
    xs.ticks.forEach((t: any) => {
      const px = Math.round(xs.getPixelForValue(t.value)) + 0.5;
      ctx.moveTo(px, a.bottom);
      ctx.lineTo(px, a.bottom - 14);
    });
    ys.ticks.forEach((t: any) => {
      const py = Math.round(ys.getPixelForValue(t.value)) + 0.5;
      ctx.moveTo(a.left, py);
      ctx.lineTo(a.left + 14, py);
    });
    ctx.stroke();
    ctx.fillStyle = '#000';
    ctx.font = LABEL_FONT;
    ctx.textBaseline = 'alphabetic';
    xs.ticks.forEach((t: any) => {
      const idx = X_TICK_DAYS.indexOf(t.value);
      const px = xs.getPixelForValue(t.value);
      ctx.save();
      ctx.translate(px, a.bottom + 21);
      ctx.scale(LABEL_STRETCH, 1);
      ctx.textAlign = 'center';
      ctx.fillText(X_TICK_LABELS[idx], 0, 0);
      ctx.restore();
    });
    ys.ticks.forEach((t: any) => {
      const py = ys.getPixelForValue(t.value);
      ctx.save();
      ctx.translate(a.left - 6, py + 6);
      ctx.scale(LABEL_STRETCH, 1);
      ctx.textAlign = 'right';
      ctx.fillText(fmt(t.value), 0, 0);
      ctx.restore();
    });
    ctx.restore();
  },
};

function makeConfig(values: any[], spikes: any[], yRange: number[], yTicks: number[], limit: number, padTop: number, axisH: number) {
  const datasets: any[] = [];
  SERIES_NAMES.forEach((name, i) => {
    datasets.push({
      label: name,
      data: toPoints(values[i], SERIES_START[i], spikes[i]),
      borderColor: SERIES_COLORS[i],
      borderWidth: 1,
      borderDash: SERIES_DASHED[i] ? [16, 12] : [],
      pointRadius: 0,
      tension: 0,
      fill: false,
      spanGaps: true,
      order: 30 - i,
    });
  });
  SWITCH_DAYS.forEach((d, k) => {
    datasets.push({
      label: 'Usoll' + k,
      data: [{ x: d, y: yRange[0] }, { x: d, y: yRange[1] }],
      borderColor: SWITCH_COLORS[k],
      borderWidth: 3,
      pointRadius: 0,
      order: 1,
      clip: 0,
    });
  });
  datasets.push({
    label: LIMIT_LABEL,
    data: [{ x: X_RANGE[0], y: limit }, { x: X_RANGE[1], y: limit }],
    borderColor: '#000',
    borderWidth: 7.5,
    borderDash: [23, 6.6],
    borderDashOffset: 11,
    borderCapStyle: 'butt',
    pointRadius: 0,
    order: 2,
  });
  return {
    type: 'line',
    data: { datasets },
    options: {
      animation: false,
      responsive: false,
      maintainAspectRatio: false,
      devicePixelRatio: 1,
      events: [],
      layout: { padding: { top: padTop, right: AXIS_RIGHT_PAD, bottom: 0, left: 0 } },
      plugins: { legend: { display: false }, tooltip: { enabled: false }, title: { display: false } },
      scales: {
        x: {
          type: 'linear',
          min: X_RANGE[0],
          max: X_RANGE[1],
          grid: { display: false, drawTicks: false },
          border: { display: true, color: '#808080', width: 2 },
          ticks: { display: false },
          afterBuildTicks: (s: any) => { s.ticks = X_TICK_DAYS.map((v) => ({ value: v })); },
          afterFit: (s: any) => { s.height = axisH; s.paddingLeft = 0; s.paddingRight = 0; },
        },
        y: {
          type: 'linear',
          min: yRange[0],
          max: yRange[1],
          grid: { display: false, drawTicks: false },
          border: { display: true, color: '#808080', width: 2 },
          ticks: { display: false },
          afterBuildTicks: (s: any) => { s.ticks = yTicks.map((v) => ({ value: v })); },
          afterFit: (s: any) => { s.width = AXIS_LEFT; s.paddingTop = 0; s.paddingBottom = 0; },
        },
      },
    },
    plugins: [axisDecor],
  };
}

function Panel(props: { top: number; height: number; padTop: number; axisH: number; values: any[]; spikes: any[]; yRange: number[]; yTicks: number[]; limit: number }) {
  const ref = useRef<HTMLCanvasElement>(null);
  useEffect(() => {
    const cfg: any = makeConfig(props.values, props.spikes, props.yRange, props.yTicks, props.limit, props.padTop, props.axisH);
    const chart = new Chart(ref.current as HTMLCanvasElement, cfg);
    return () => chart.destroy();
  }, []);
  return (
    <canvas
      ref={ref}
      width={PAGE_W}
      height={props.height}
      style={{ position: 'absolute', left: 0, top: props.top, width: PAGE_W, height: props.height }}
    />
  );
}

function FitText(props: { text: string; left: number; top: number; width: number; family: string; size: number; weight?: number }) {
  const ref = useRef<HTMLSpanElement>(null);
  useLayoutEffect(() => {
    const el = ref.current;
    if (!el) return;
    el.style.transform = 'none';
    const w = el.getBoundingClientRect().width;
    if (w > 0) el.style.transform = `scaleX(${props.width / w})`;
  }, []);
  return (
    <span
      ref={ref}
      style={{
        position: 'absolute',
        left: props.left,
        top: props.top,
        fontFamily: props.family,
        fontSize: props.size,
        fontWeight: props.weight || 400,
        lineHeight: 1,
        whiteSpace: 'nowrap',
        transformOrigin: '0 0',
        color: '#000',
        display: 'inline-block',
      }}
    >
      {props.text}
    </span>
  );
}

function Legend() {
  const W = 303;
  const H = 340;
  const labels = [...SERIES_NAMES, LIMIT_LABEL];
  return (
    <svg width={W} height={H} style={{ position: 'absolute', left: 6, top: 482 }}>
      <rect x={0.75} y={0.75} width={W - 1.5} height={H - 1.5} fill="#fff" stroke="#000" strokeWidth={1.5} />
      {labels.map((lab, i) => {
        const cy = Math.round(16.3 + i * 27.9) + 0.5;
        let sample: any;
        if (i < SERIES_NAMES.length) {
          const col = SERIES_COLORS[i];
          if (SERIES_DASHED[i]) {
            sample = (
              <g stroke={col} strokeWidth={1}>
                <line x1={12} x2={34} y1={cy} y2={cy} />
                <line x1={52} x2={57} y1={cy} y2={cy} />
              </g>
            );
          } else {
            sample = <line x1={12} x2={i < 4 ? 71 : 57} y1={cy} y2={cy} stroke={col} strokeWidth={1} />;
          }
        } else {
          sample = (
            <g stroke="#000" strokeWidth={7}>
              <line x1={12} x2={34} y1={cy} y2={cy} />
              <line x1={42} x2={64} y1={cy} y2={cy} />
            </g>
          );
        }
        return (
          <g key={lab}>
            {sample}
            <text
              transform={`translate(77 ${cy + 6}) scale(1.156 1)`}
              fontFamily='"Liberation Sans", Arial, Helvetica, sans-serif'
              fontSize={16.5}
              fill="#000"
            >
              {lab}
            </text>
          </g>
        );
      })}
    </svg>
  );
}

function Arrow({ x1, y1, x2, y2 }: { x1: number; y1: number; x2: number; y2: number }) {
  const dx = x2 - x1;
  const dy = y2 - y1;
  const len = Math.hypot(dx, dy);
  const ux = dx / len;
  const uy = dy / len;
  const nx = -uy;
  const ny = ux;
  const L = 18;
  const Wd = 7;
  const N = 12;
  const bx = x2 - ux * L;
  const by = y2 - uy * L;
  const pts = [
    [x2, y2],
    [bx + nx * Wd, by + ny * Wd],
    [x2 - ux * N, y2 - uy * N],
    [bx - nx * Wd, by - ny * Wd],
  ].map((p) => p.join(',')).join(' ');
  return (
    <g>
      <line x1={x1} y1={y1} x2={x2 - ux * N} y2={y2 - uy * N} stroke="#000" strokeWidth={1} />
      <polygon points={pts} fill="#000" />
    </g>
  );
}

const BRACE_COLOR = '#68ac2c';
const BRACE_1 = 'M171 606 L171 638 Q171 655 188 655 L520 655 Q537.5 655 537.5 672 L537.5 700 M537.5 672 Q537.5 655 555 655 L888 655 Q905 655 905 638 L905 606';
const BRACE_2 = 'M905 606 L905 638 Q905 655 922 655 L1253 655 Q1270 655 1270 672 L1270 700 M1270 672 Q1270 655 1287 655 L1620 655 Q1637.5 655 1637.5 638 L1637.5 606';

export default function App() {
  const sans = '"Liberation Sans", Arial, Helvetica, sans-serif';
  const big = '"Open Sans", "Noto Sans", sans-serif';
  return (
    <div style={{ position: 'absolute', left: 0, top: 0, width: PAGE_W, height: 1287, background: '#fff', overflow: 'hidden' }}>
      <Panel top={0} height={640} padTop={107} axisH={50} values={TOP_VALUES} spikes={TOP_SPIKES} yRange={TOP_Y_RANGE} yTicks={TOP_Y_TICKS} limit={UPPER_LIMIT} />
      <Panel top={700} height={587} padTop={77} axisH={29} values={BOTTOM_VALUES} spikes={BOTTOM_SPIKES} yRange={BOTTOM_Y_RANGE} yTicks={BOTTOM_Y_TICKS} limit={LOWER_LIMIT} />
      <div style={{ position: 'absolute', left: 1095, top: 1096, width: 548, height: 84, background: '#fff' }} />
      <Legend />
      <svg width={PAGE_W} height={1287} style={{ position: 'absolute', left: 0, top: 0, pointerEvents: 'none' }}>
        <path d={BRACE_1} fill="none" stroke={BRACE_COLOR} strokeWidth={12} strokeLinecap="round" strokeLinejoin="round" />
        <path d={BRACE_2} fill="none" stroke={BRACE_COLOR} strokeWidth={12} strokeLinecap="round" strokeLinejoin="round" />
        <Arrow x1={936} y1={29} x2={858} y2={100} />
        <Arrow x1={973} y1={61} x2={938} y2={100} />
      </svg>
      <FitText text="Usoll=33,3 kV" left={940} top={6} width={121} family={sans} size={20} />
      <FitText text="Usoll=33,0 kV" left={976} top={37} width={120} family={sans} size={20} />
      <FitText text="Obere Spannungsgrenze" left={1081} top={163} width={499} family={big} size={52} />
      <FitText text="untere Spannungsgrenze" left={1115} top={1111} width={512} family={big} size={52} />
      <FitText text="2012" left={454} top={705} width={143} family={sans} size={68} weight={700} />
      <FitText text="2013" left={1184} top={705} width={141} family={sans} size={68} weight={700} />
    </div>
  );
}
